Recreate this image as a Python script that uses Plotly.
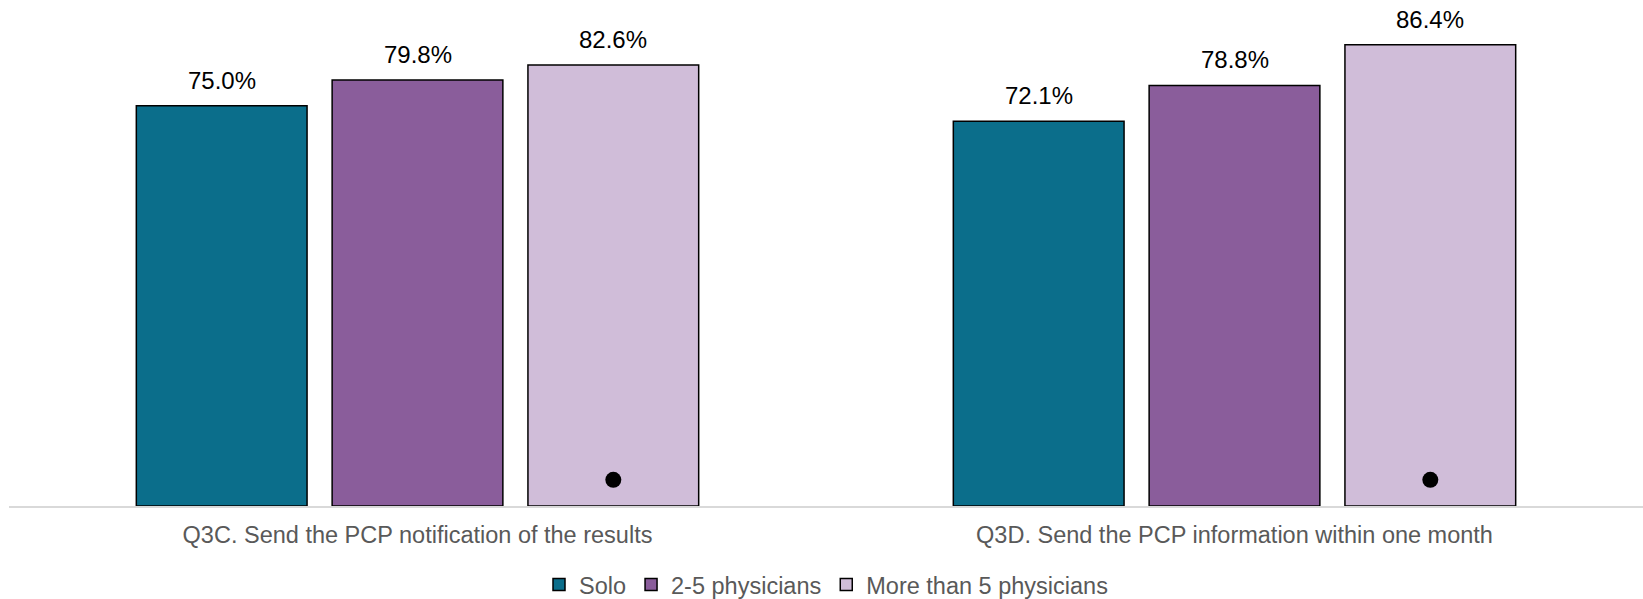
import plotly.graph_objects as go

# Survey items (x categories)
categories = [
    "Q3C. Send the PCP notification of the results",
    "Q3D. Send the PCP information within one month",
]

# Practice-size series, percent of respondents
series_names = ["Solo", "2-5 physicians", "More than 5 physicians"]
solo = [75.0, 72.1]
two_to_five = [79.8, 78.8]
more_than_five = [82.6, 86.4]

# Significance marker shown inside the "More than 5 physicians" bar
significant_more_than_five = [True, True]

colors = ["#0B6E8B", "#8A5D9B", "#D0BDD9"]
series_values = [solo, two_to_five, more_than_five]

BARGAP = 0.281
BARGROUPGAP = 0.128
n_series = len(series_values)
slot = (1 - BARGAP) / n_series

FONT = "Liberation Sans, Arial, sans-serif"
x_pos = list(range(len(categories)))

fig = go.Figure()
for name, vals, col in zip(series_names, series_values, colors):
    fig.add_trace(go.Bar(
        name=name,
        x=x_pos,
        y=vals,
        marker=dict(color=col, line=dict(color="#000000", width=1.5)),
        hoverinfo="skip",
    ))

# Value labels above each bar
for k, vals in enumerate(series_values):
    offset = (k - (n_series - 1) / 2) * slot
    for i, v in enumerate(vals):
        fig.add_annotation(
            x=x_pos[i] + offset, y=v, text=f"{v:.1f}%",
            showarrow=False, yanchor="bottom", yshift=10,
            font=dict(family=FONT, size=24, color="#000000"),
        )

# Significance dots near the base of the last series' bars
dot_offset = (n_series - 1 - (n_series - 1) / 2) * slot
dot_x = [x_pos[i] + dot_offset for i, s in enumerate(significant_more_than_five) if s]
fig.add_trace(go.Scatter(
    x=dot_x, y=[4.9] * len(dot_x), mode="markers",
    marker=dict(color="#000000", size=16),
    showlegend=False, hoverinfo="skip",
))

fig.update_layout(
    width=1643, height=599,
    margin=dict(l=9, r=0, t=0, b=93, autoexpand=False),
    paper_bgcolor="#FFFFFF",
    plot_bgcolor="#FFFFFF",
    barmode="group",
    bargap=BARGAP,
    bargroupgap=BARGROUPGAP,
    font=dict(family=FONT, color="#595959"),
    showlegend=True,
    legend=dict(
        orientation="h", x=0.5, xanchor="center",
        yref="container", y=0.024, yanchor="middle",
        font=dict(size=23.5, color="#595959"),
        itemwidth=30, tracegroupgap=0,
    ),
    xaxis=dict(
        range=[-0.5, len(categories) - 0.5],
        tickmode="array", tickvals=x_pos, ticktext=categories,
        tickfont=dict(size=23.5, color="#595959"),
        showgrid=False, zeroline=False,
        showline=True, linecolor="#D9D9D9", linewidth=2,
        ticks="", ticklen=0, ticklabelstandoff=7,
    ),
    yaxis=dict(
        range=[0, 94.8], visible=False, showgrid=False, zeroline=False,
    ),
)

fig.write_html("out.html")
